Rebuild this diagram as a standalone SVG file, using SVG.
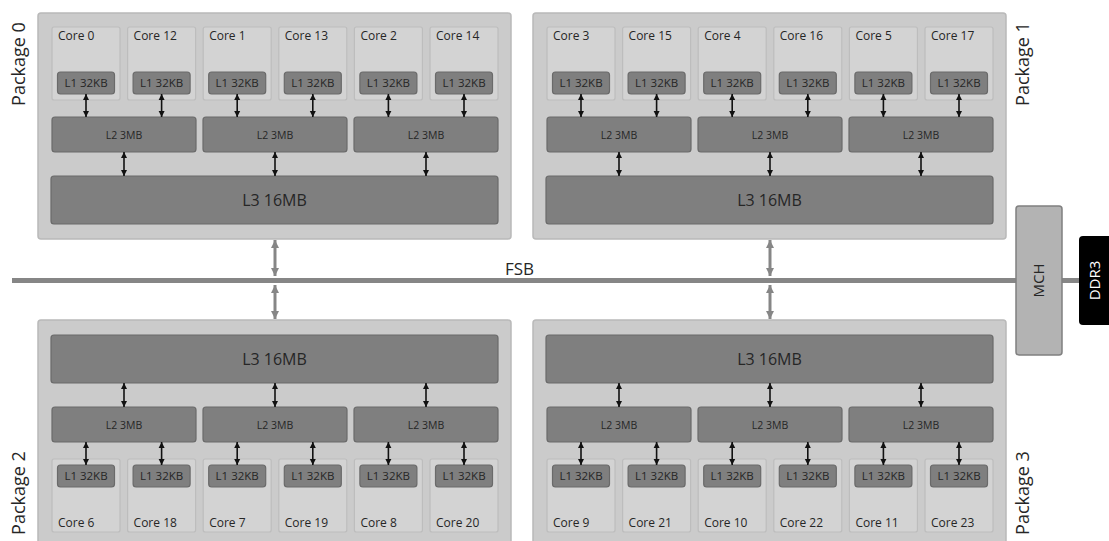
<svg xmlns="http://www.w3.org/2000/svg" width="1109" height="541" viewBox="0 0 1109 541">
<style>
.pkg{fill:#cbcbcb;stroke:#b9b9b9;stroke-width:1.5}
.core{fill:#d3d3d3;stroke:#bdbdbd;stroke-width:1.2}
.cache{fill:#7f7f7f;stroke:#6a6a6a;stroke-width:1.2}
.t{font-family:"Open Sans","Noto Sans",sans-serif;fill:#262626}
.ct{font-size:12px}
.l1{font-size:11.5px;text-anchor:middle}
.l2{font-size:10.5px;text-anchor:middle}
.l3{font-size:16px;text-anchor:middle}
.lbl{font-size:18px;text-anchor:middle}
.blk{stroke:#111;stroke-width:1.6;fill:none;marker-start:url(#ab);marker-end:url(#ab)}
.gry{stroke:#868686;stroke-width:3;fill:none;marker-start:url(#ag);marker-end:url(#ag)}
</style>
<defs>
<marker id="ab" markerUnits="userSpaceOnUse" markerWidth="7" markerHeight="7" refX="6" refY="3.5" orient="auto-start-reverse"><path d="M0,0.5 L6,3.5 L0,6.5 z" fill="#111"/></marker>
<marker id="ag" markerUnits="userSpaceOnUse" markerWidth="10" markerHeight="10" refX="8" refY="5" orient="auto-start-reverse"><path d="M0,1 L8,5 L0,9 z" fill="#868686"/></marker>
</defs>
<rect width="1109" height="541" fill="#ffffff"/>

<!-- Package 0 -->
<g id="package0" transform="translate(38,13)">
<rect class="pkg" x="0" y="0" width="473" height="226" rx="3"/>
<g id="p0-core0"><rect class="core" x="14" y="14" width="68" height="73" rx="2"/><text class="t ct" x="20" y="27">Core 0</text></g>
<g id="p0-core12"><rect class="core" x="89.6" y="14" width="68" height="73" rx="2"/><text class="t ct" x="95.6" y="27">Core 12</text></g>
<g id="p0-core1"><rect class="core" x="165.2" y="14" width="68" height="73" rx="2"/><text class="t ct" x="171.2" y="27">Core 1</text></g>
<g id="p0-core13"><rect class="core" x="240.8" y="14" width="68" height="73" rx="2"/><text class="t ct" x="246.8" y="27">Core 13</text></g>
<g id="p0-core2"><rect class="core" x="316.4" y="14" width="68" height="73" rx="2"/><text class="t ct" x="322.4" y="27">Core 2</text></g>
<g id="p0-core14"><rect class="core" x="392" y="14" width="68" height="73" rx="2"/><text class="t ct" x="398" y="27">Core 14</text></g>
<g id="p0-l1-0"><rect class="cache" x="19.5" y="59" width="57" height="22" rx="3"/><text class="t l1" x="48" y="74">L1 32KB</text></g>
<g id="p0-l1-12"><rect class="cache" x="95.1" y="59" width="57" height="22" rx="3"/><text class="t l1" x="123.6" y="74">L1 32KB</text></g>
<g id="p0-l1-1"><rect class="cache" x="170.7" y="59" width="57" height="22" rx="3"/><text class="t l1" x="199.2" y="74">L1 32KB</text></g>
<g id="p0-l1-13"><rect class="cache" x="246.3" y="59" width="57" height="22" rx="3"/><text class="t l1" x="274.8" y="74">L1 32KB</text></g>
<g id="p0-l1-2"><rect class="cache" x="321.9" y="59" width="57" height="22" rx="3"/><text class="t l1" x="350.4" y="74">L1 32KB</text></g>
<g id="p0-l1-14"><rect class="cache" x="397.5" y="59" width="57" height="22" rx="3"/><text class="t l1" x="426" y="74">L1 32KB</text></g>
<g id="p0-l2-a"><rect class="cache" x="14" y="104" width="144" height="35" rx="3"/><text class="t l2" x="86" y="125.5">L2 3MB</text></g>
<g id="p0-l2-b"><rect class="cache" x="165" y="104" width="144" height="35" rx="3"/><text class="t l2" x="237" y="125.5">L2 3MB</text></g>
<g id="p0-l2-c"><rect class="cache" x="316" y="104" width="144" height="35" rx="3"/><text class="t l2" x="388" y="125.5">L2 3MB</text></g>
<g id="p0-l3"><rect class="cache" x="13" y="163" width="447" height="48" rx="3"/><text class="t l3" x="236.5" y="193">L3 16MB</text></g>
</g>

<!-- Package 1 -->
<g id="package1" transform="translate(533,13)">
<rect class="pkg" x="0" y="0" width="473" height="226" rx="3"/>
<g id="p1-core3"><rect class="core" x="14" y="14" width="68" height="73" rx="2"/><text class="t ct" x="20" y="27">Core 3</text></g>
<g id="p1-core15"><rect class="core" x="89.6" y="14" width="68" height="73" rx="2"/><text class="t ct" x="95.6" y="27">Core 15</text></g>
<g id="p1-core4"><rect class="core" x="165.2" y="14" width="68" height="73" rx="2"/><text class="t ct" x="171.2" y="27">Core 4</text></g>
<g id="p1-core16"><rect class="core" x="240.8" y="14" width="68" height="73" rx="2"/><text class="t ct" x="246.8" y="27">Core 16</text></g>
<g id="p1-core5"><rect class="core" x="316.4" y="14" width="68" height="73" rx="2"/><text class="t ct" x="322.4" y="27">Core 5</text></g>
<g id="p1-core17"><rect class="core" x="392" y="14" width="68" height="73" rx="2"/><text class="t ct" x="398" y="27">Core 17</text></g>
<g id="p1-l1-3"><rect class="cache" x="19.5" y="59" width="57" height="22" rx="3"/><text class="t l1" x="48" y="74">L1 32KB</text></g>
<g id="p1-l1-15"><rect class="cache" x="95.1" y="59" width="57" height="22" rx="3"/><text class="t l1" x="123.6" y="74">L1 32KB</text></g>
<g id="p1-l1-4"><rect class="cache" x="170.7" y="59" width="57" height="22" rx="3"/><text class="t l1" x="199.2" y="74">L1 32KB</text></g>
<g id="p1-l1-16"><rect class="cache" x="246.3" y="59" width="57" height="22" rx="3"/><text class="t l1" x="274.8" y="74">L1 32KB</text></g>
<g id="p1-l1-5"><rect class="cache" x="321.9" y="59" width="57" height="22" rx="3"/><text class="t l1" x="350.4" y="74">L1 32KB</text></g>
<g id="p1-l1-17"><rect class="cache" x="397.5" y="59" width="57" height="22" rx="3"/><text class="t l1" x="426" y="74">L1 32KB</text></g>
<g id="p1-l2-a"><rect class="cache" x="14" y="104" width="144" height="35" rx="3"/><text class="t l2" x="86" y="125.5">L2 3MB</text></g>
<g id="p1-l2-b"><rect class="cache" x="165" y="104" width="144" height="35" rx="3"/><text class="t l2" x="237" y="125.5">L2 3MB</text></g>
<g id="p1-l2-c"><rect class="cache" x="316" y="104" width="144" height="35" rx="3"/><text class="t l2" x="388" y="125.5">L2 3MB</text></g>
<g id="p1-l3"><rect class="cache" x="13" y="163" width="447" height="48" rx="3"/><text class="t l3" x="236.5" y="193">L3 16MB</text></g>
</g>

<!-- Package 2 -->
<g id="package2" transform="translate(38,320)">
<rect class="pkg" x="0" y="0" width="473" height="226" rx="3"/>
<g id="p2-core6"><rect class="core" x="14" y="139" width="68" height="73" rx="2"/><text class="t ct" x="20" y="207">Core 6</text></g>
<g id="p2-core18"><rect class="core" x="89.6" y="139" width="68" height="73" rx="2"/><text class="t ct" x="95.6" y="207">Core 18</text></g>
<g id="p2-core7"><rect class="core" x="165.2" y="139" width="68" height="73" rx="2"/><text class="t ct" x="171.2" y="207">Core 7</text></g>
<g id="p2-core19"><rect class="core" x="240.8" y="139" width="68" height="73" rx="2"/><text class="t ct" x="246.8" y="207">Core 19</text></g>
<g id="p2-core8"><rect class="core" x="316.4" y="139" width="68" height="73" rx="2"/><text class="t ct" x="322.4" y="207">Core 8</text></g>
<g id="p2-core20"><rect class="core" x="392" y="139" width="68" height="73" rx="2"/><text class="t ct" x="398" y="207">Core 20</text></g>
<g id="p2-l1-6"><rect class="cache" x="19.5" y="145" width="57" height="22" rx="3"/><text class="t l1" x="48" y="160">L1 32KB</text></g>
<g id="p2-l1-18"><rect class="cache" x="95.1" y="145" width="57" height="22" rx="3"/><text class="t l1" x="123.6" y="160">L1 32KB</text></g>
<g id="p2-l1-7"><rect class="cache" x="170.7" y="145" width="57" height="22" rx="3"/><text class="t l1" x="199.2" y="160">L1 32KB</text></g>
<g id="p2-l1-19"><rect class="cache" x="246.3" y="145" width="57" height="22" rx="3"/><text class="t l1" x="274.8" y="160">L1 32KB</text></g>
<g id="p2-l1-8"><rect class="cache" x="321.9" y="145" width="57" height="22" rx="3"/><text class="t l1" x="350.4" y="160">L1 32KB</text></g>
<g id="p2-l1-20"><rect class="cache" x="397.5" y="145" width="57" height="22" rx="3"/><text class="t l1" x="426" y="160">L1 32KB</text></g>
<g id="p2-l2-a"><rect class="cache" x="14" y="87" width="144" height="35" rx="3"/><text class="t l2" x="86" y="108.5">L2 3MB</text></g>
<g id="p2-l2-b"><rect class="cache" x="165" y="87" width="144" height="35" rx="3"/><text class="t l2" x="237" y="108.5">L2 3MB</text></g>
<g id="p2-l2-c"><rect class="cache" x="316" y="87" width="144" height="35" rx="3"/><text class="t l2" x="388" y="108.5">L2 3MB</text></g>
<g id="p2-l3"><rect class="cache" x="13" y="15" width="447" height="48" rx="3"/><text class="t l3" x="236.5" y="45">L3 16MB</text></g>
</g>

<!-- Package 3 -->
<g id="package3" transform="translate(533,320)">
<rect class="pkg" x="0" y="0" width="473" height="226" rx="3"/>
<g id="p3-core9"><rect class="core" x="14" y="139" width="68" height="73" rx="2"/><text class="t ct" x="20" y="207">Core 9</text></g>
<g id="p3-core21"><rect class="core" x="89.6" y="139" width="68" height="73" rx="2"/><text class="t ct" x="95.6" y="207">Core 21</text></g>
<g id="p3-core10"><rect class="core" x="165.2" y="139" width="68" height="73" rx="2"/><text class="t ct" x="171.2" y="207">Core 10</text></g>
<g id="p3-core22"><rect class="core" x="240.8" y="139" width="68" height="73" rx="2"/><text class="t ct" x="246.8" y="207">Core 22</text></g>
<g id="p3-core11"><rect class="core" x="316.4" y="139" width="68" height="73" rx="2"/><text class="t ct" x="322.4" y="207">Core 11</text></g>
<g id="p3-core23"><rect class="core" x="392" y="139" width="68" height="73" rx="2"/><text class="t ct" x="398" y="207">Core 23</text></g>
<g id="p3-l1-9"><rect class="cache" x="19.5" y="145" width="57" height="22" rx="3"/><text class="t l1" x="48" y="160">L1 32KB</text></g>
<g id="p3-l1-21"><rect class="cache" x="95.1" y="145" width="57" height="22" rx="3"/><text class="t l1" x="123.6" y="160">L1 32KB</text></g>
<g id="p3-l1-10"><rect class="cache" x="170.7" y="145" width="57" height="22" rx="3"/><text class="t l1" x="199.2" y="160">L1 32KB</text></g>
<g id="p3-l1-22"><rect class="cache" x="246.3" y="145" width="57" height="22" rx="3"/><text class="t l1" x="274.8" y="160">L1 32KB</text></g>
<g id="p3-l1-11"><rect class="cache" x="321.9" y="145" width="57" height="22" rx="3"/><text class="t l1" x="350.4" y="160">L1 32KB</text></g>
<g id="p3-l1-23"><rect class="cache" x="397.5" y="145" width="57" height="22" rx="3"/><text class="t l1" x="426" y="160">L1 32KB</text></g>
<g id="p3-l2-a"><rect class="cache" x="14" y="87" width="144" height="35" rx="3"/><text class="t l2" x="86" y="108.5">L2 3MB</text></g>
<g id="p3-l2-b"><rect class="cache" x="165" y="87" width="144" height="35" rx="3"/><text class="t l2" x="237" y="108.5">L2 3MB</text></g>
<g id="p3-l2-c"><rect class="cache" x="316" y="87" width="144" height="35" rx="3"/><text class="t l2" x="388" y="108.5">L2 3MB</text></g>
<g id="p3-l3"><rect class="cache" x="13" y="15" width="447" height="48" rx="3"/><text class="t l3" x="236.5" y="45">L3 16MB</text></g>
</g>

<!-- Package labels -->
<text class="t lbl" transform="translate(25,64) rotate(-90)">Package 0</text>
<text class="t lbl" transform="translate(1029,64) rotate(-90)">Package 1</text>
<text class="t lbl" transform="translate(25,493) rotate(-90)">Package 2</text>
<text class="t lbl" transform="translate(1029,493) rotate(-90)">Package 3</text>

<!-- Connectors -->
<g id="connectors">
<line x1="12" y1="280.5" x2="1016" y2="280.5" stroke="#868686" stroke-width="5"/>
<line x1="1062" y1="280.5" x2="1079" y2="280.5" stroke="#868686" stroke-width="5"/>
<text class="t" x="505" y="275" font-size="17">FSB</text>
<!-- FSB arrows -->
<line class="gry" x1="275" y1="240" x2="275" y2="276"/>
<line class="gry" x1="275" y1="285" x2="275" y2="319"/>
<line class="gry" x1="770" y1="240" x2="770" y2="276"/>
<line class="gry" x1="770" y1="285" x2="770" y2="319"/>
<!-- P0 L1-L2 -->
<line class="blk" x1="86" y1="94" x2="86" y2="117"/>
<line class="blk" x1="161.6" y1="94" x2="161.6" y2="117"/>
<line class="blk" x1="237.2" y1="94" x2="237.2" y2="117"/>
<line class="blk" x1="312.8" y1="94" x2="312.8" y2="117"/>
<line class="blk" x1="388.4" y1="94" x2="388.4" y2="117"/>
<line class="blk" x1="464" y1="94" x2="464" y2="117"/>
<!-- P0 L2-L3 -->
<line class="blk" x1="124" y1="152" x2="124" y2="176"/>
<line class="blk" x1="275" y1="152" x2="275" y2="176"/>
<line class="blk" x1="426" y1="152" x2="426" y2="176"/>
<!-- P1 L1-L2 -->
<line class="blk" x1="581" y1="94" x2="581" y2="117"/>
<line class="blk" x1="656.6" y1="94" x2="656.6" y2="117"/>
<line class="blk" x1="732.2" y1="94" x2="732.2" y2="117"/>
<line class="blk" x1="807.8" y1="94" x2="807.8" y2="117"/>
<line class="blk" x1="883.4" y1="94" x2="883.4" y2="117"/>
<line class="blk" x1="959" y1="94" x2="959" y2="117"/>
<!-- P1 L2-L3 -->
<line class="blk" x1="619" y1="152" x2="619" y2="176"/>
<line class="blk" x1="770" y1="152" x2="770" y2="176"/>
<line class="blk" x1="921" y1="152" x2="921" y2="176"/>
<!-- P2 L3-L2 -->
<line class="blk" x1="124" y1="383" x2="124" y2="407"/>
<line class="blk" x1="275" y1="383" x2="275" y2="407"/>
<line class="blk" x1="426" y1="383" x2="426" y2="407"/>
<!-- P2 L2-L1 -->
<line class="blk" x1="86" y1="442" x2="86" y2="465"/>
<line class="blk" x1="161.6" y1="442" x2="161.6" y2="465"/>
<line class="blk" x1="237.2" y1="442" x2="237.2" y2="465"/>
<line class="blk" x1="312.8" y1="442" x2="312.8" y2="465"/>
<line class="blk" x1="388.4" y1="442" x2="388.4" y2="465"/>
<line class="blk" x1="464" y1="442" x2="464" y2="465"/>
<!-- P3 L3-L2 -->
<line class="blk" x1="619" y1="383" x2="619" y2="407"/>
<line class="blk" x1="770" y1="383" x2="770" y2="407"/>
<line class="blk" x1="921" y1="383" x2="921" y2="407"/>
<!-- P3 L2-L1 -->
<line class="blk" x1="581" y1="442" x2="581" y2="465"/>
<line class="blk" x1="656.6" y1="442" x2="656.6" y2="465"/>
<line class="blk" x1="732.2" y1="442" x2="732.2" y2="465"/>
<line class="blk" x1="807.8" y1="442" x2="807.8" y2="465"/>
<line class="blk" x1="883.4" y1="442" x2="883.4" y2="465"/>
<line class="blk" x1="959" y1="442" x2="959" y2="465"/>
</g>

<!-- MCH -->
<g id="mch">
<rect x="1016" y="206" width="46" height="149" rx="3" fill="#b3b3b3" stroke="#808080" stroke-width="1.5"/>
<text class="t" font-size="15" text-anchor="middle" transform="translate(1044,280.5) rotate(-90)">MCH</text>
</g>

<!-- DDR3 -->
<g id="ddr3">
<rect x="1079" y="236" width="40" height="89" rx="4" fill="#000000"/>
<text font-family="'Open Sans','Noto Sans',sans-serif" font-size="15" fill="#ffffff" text-anchor="middle" transform="translate(1099.5,280.5) rotate(-90)">DDR3</text>
</g>
</svg>
